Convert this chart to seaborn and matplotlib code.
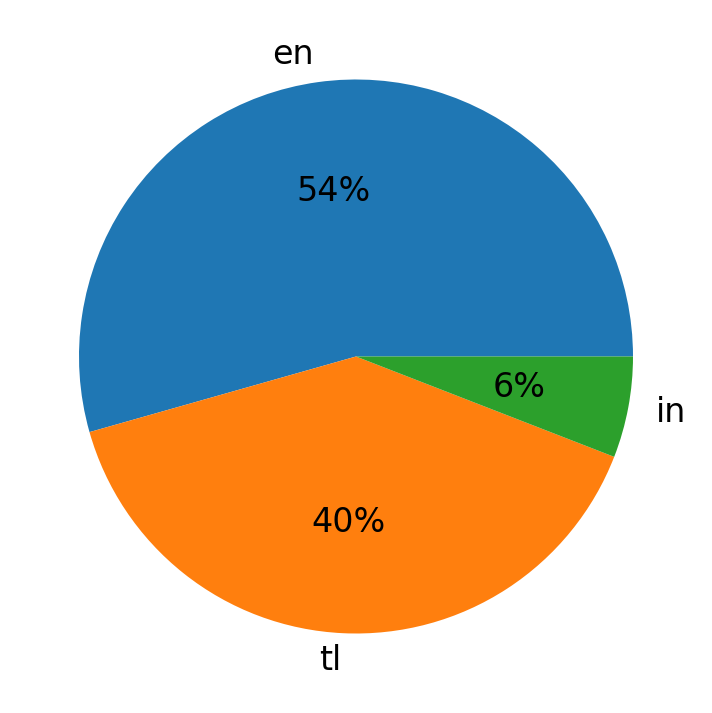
import matplotlib
matplotlib.use("Agg")
import matplotlib.pyplot as plt
import seaborn as sns

# language share of tweets
langs = ["en", "tl", "in"]
shares = [54.4, 39.7, 5.9]

colors = sns.color_palette("tab10", 3)

fig = plt.figure(figsize=(7.12, 7.13), dpi=100)
ax = fig.add_axes([0, 0, 1, 1])
ax.pie(
    shares,
    labels=langs,
    colors=colors,
    autopct="%1.0f%%",
    textprops={"fontsize": 24},
)
ax.set_aspect("equal")
ax.set_xlim(-1.285, 1.285)
ax.set_ylim(-1.287, 1.287)
fig.savefig("out.png", dpi=100)
